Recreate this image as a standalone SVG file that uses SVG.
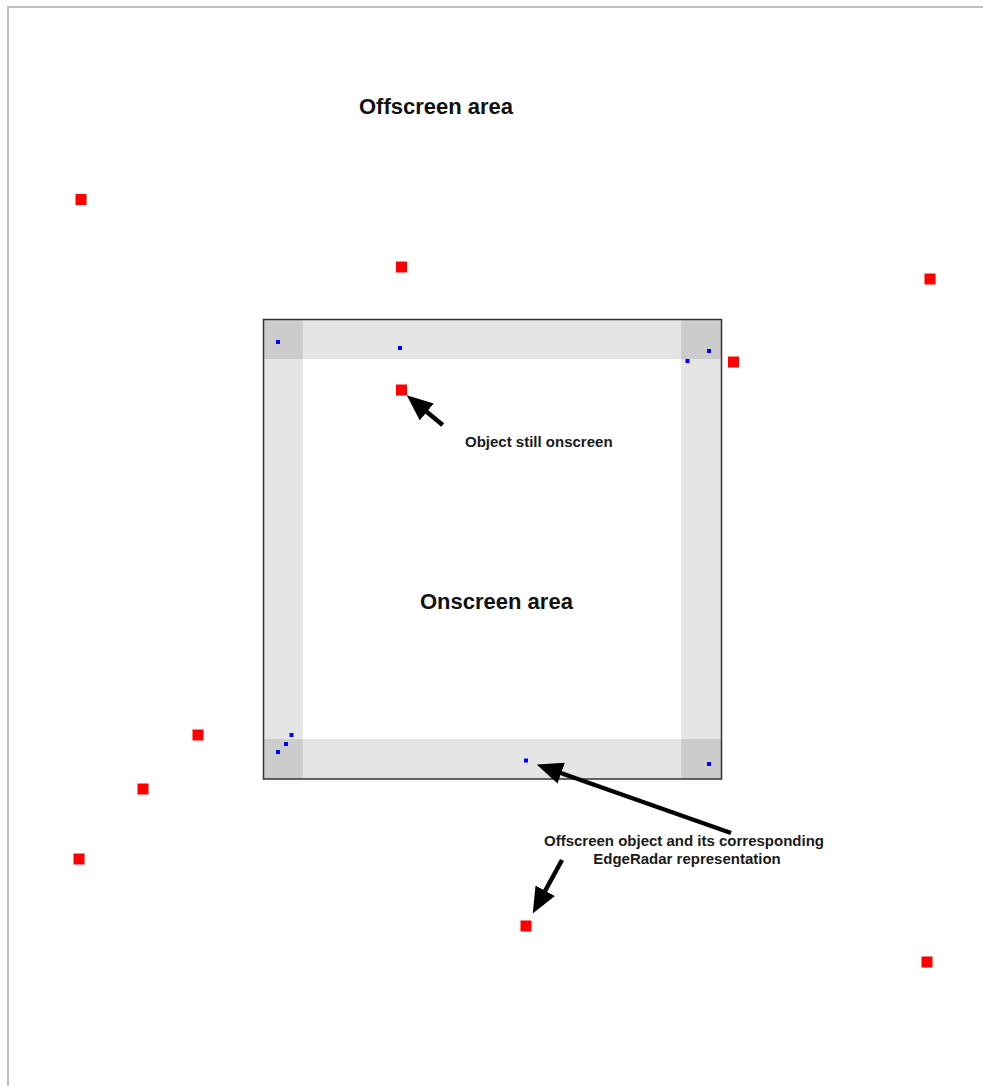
<svg xmlns="http://www.w3.org/2000/svg" width="983" height="1086" viewBox="0 0 983 1086">
<style>
.red{fill:#ff0000}
.blue{fill:#0000ff}
.band{fill:#e5e5e5}
.corner{fill:#cccccc}
.title{font-family:"Liberation Sans",Arial,sans-serif;font-weight:bold;font-size:22px;fill:#111}
.label{font-family:"Liberation Sans",Arial,sans-serif;font-weight:bold;font-size:15px;fill:#1a1a1a}
.arrow{stroke:#000;stroke-width:4.5;fill:none;marker-end:url(#head)}
</style>
<defs>
<marker id="head" viewBox="0 0 26 22" refX="14" refY="11" markerWidth="26" markerHeight="22" markerUnits="userSpaceOnUse" orient="auto">
<path d="M0,0 L26,11 L0,22 Z" fill="#000"/>
</marker>
</defs>
<rect width="983" height="1086" fill="#fff"/>
<path d="M8,1086 V7 H983" stroke="#c0c0c0" stroke-width="2" fill="none"/>
<g id="onscreen">
<rect x="263" y="319" width="459" height="460" fill="#fff"/>
<rect class="band" x="263" y="319" width="459" height="40"/>
<rect class="band" x="263" y="739" width="459" height="40"/>
<rect class="band" x="263" y="319" width="40" height="460"/>
<rect class="band" x="681" y="319" width="41" height="460"/>
<rect class="corner" x="263" y="319" width="40" height="40"/>
<rect class="corner" x="681" y="319" width="41" height="40"/>
<rect class="corner" x="263" y="739" width="40" height="40"/>
<rect class="corner" x="681" y="739" width="41" height="40"/>
<rect x="263.5" y="319.5" width="458" height="459.5" fill="none" stroke="#333" stroke-width="1.5"/>
</g>
<g id="radar-dots">
<rect class="blue" x="276" y="340" width="4" height="4"/>
<rect class="blue" x="398" y="346" width="4" height="4"/>
<rect class="blue" x="707" y="349" width="4" height="4"/>
<rect class="blue" x="685.5" y="359" width="4" height="4"/>
<rect class="blue" x="289.5" y="733" width="4" height="4"/>
<rect class="blue" x="284" y="742" width="4" height="4"/>
<rect class="blue" x="276" y="750" width="4" height="4"/>
<rect class="blue" x="524" y="758.5" width="4" height="4"/>
<rect class="blue" x="707" y="762" width="4" height="4"/>
</g>
<g id="objects">
<rect class="red" x="75.5" y="194" width="11" height="11"/>
<rect class="red" x="396" y="261.5" width="11" height="11"/>
<rect class="red" x="924.5" y="273.5" width="11" height="11"/>
<rect class="red" x="728" y="356.5" width="11" height="11"/>
<rect class="red" x="396" y="384.5" width="11" height="11"/>
<rect class="red" x="192.5" y="729.5" width="11" height="11"/>
<rect class="red" x="137.5" y="783.5" width="11" height="11"/>
<rect class="red" x="73.5" y="853.5" width="11" height="11"/>
<rect class="red" x="520.5" y="920.5" width="11" height="11"/>
<rect class="red" x="921.5" y="956.5" width="11" height="11"/>
</g>
<g id="connectors">
<path class="arrow" d="M442.7,425 L416,403"/>
<path class="arrow" d="M731,833 L548,768.5"/>
<path class="arrow" d="M562,860 L538.5,903"/>
</g>
<g id="labels">
<text class="title" x="359" y="114">Offscreen area</text>
<text class="title" x="420" y="609">Onscreen area</text>
<text class="label" x="465" y="447">Object still onscreen</text>
<text class="label" x="684" y="846" text-anchor="middle">Offscreen object and its corresponding</text>
<text class="label" x="687" y="864" text-anchor="middle">EdgeRadar representation</text>
</g>
</svg>
